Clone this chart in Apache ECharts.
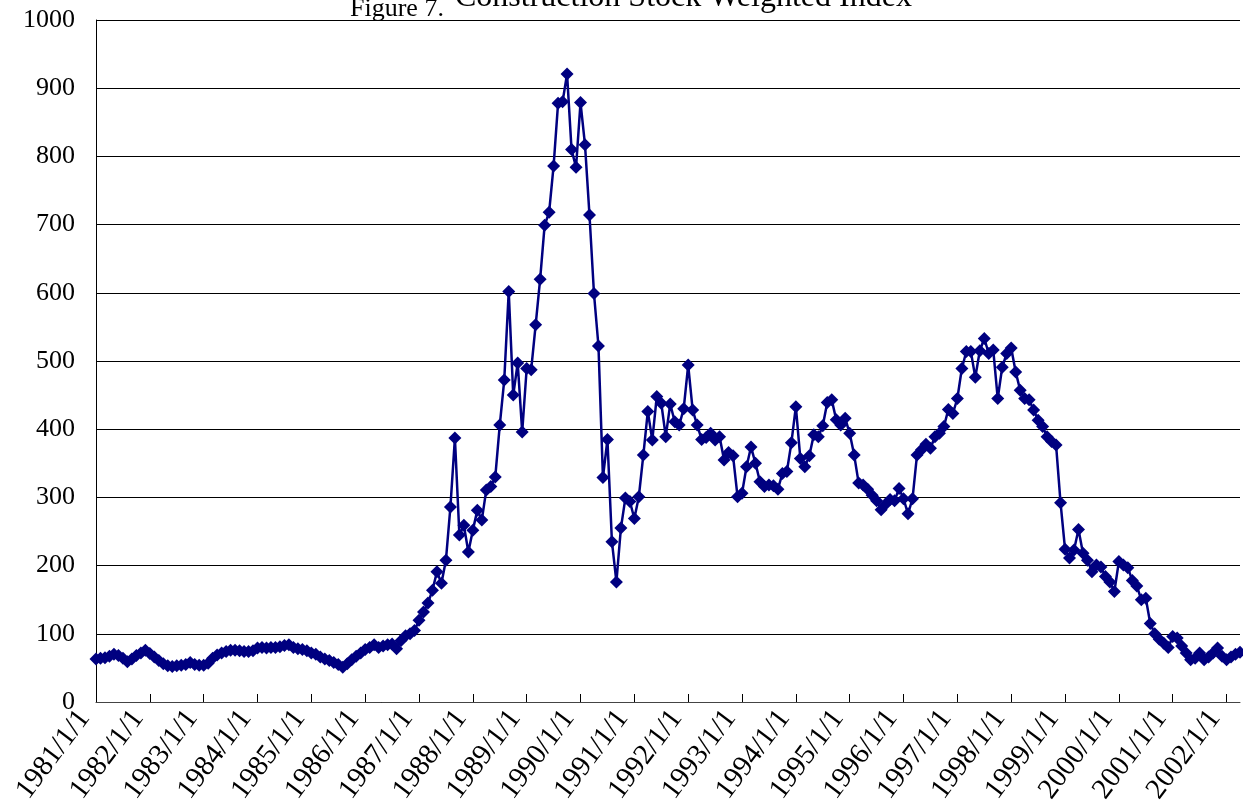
<!DOCTYPE html>
<html>
<head>
<meta charset="utf-8">
<title>Construction Stock Weighted Index</title>
<script src="https://cdn.jsdelivr.net/npm/echarts@6/dist/echarts.min.js"></script>
<style>
  html, body { margin: 0; padding: 0; background: #ffffff; }
  #chart { width: 1243px; height: 811px; }
</style>
</head>
<body>
<div id="chart"></div>
<script>
// Monthly index values, one array per calendar year (January first).
const startYear = 1981;
const idx1981 = [63, 64, 65, 67, 70, 68, 64, 59, 63, 68, 72, 76];
const idx1982 = [71, 66, 61, 56, 53, 52, 53, 54, 55, 58, 55, 54];
const idx1983 = [54, 57, 64, 69, 72, 74, 76, 76, 75, 74, 74, 75];
const idx1984 = [79, 80, 79, 80, 80, 81, 83, 84, 80, 78, 77, 75];
const idx1985 = [72, 70, 66, 63, 61, 58, 55, 51, 56, 62, 67, 72];
const idx1986 = [77, 80, 84, 80, 82, 84, 85, 78, 90, 97, 100, 105];
const idx1987 = [120, 132, 145, 164, 191, 174, 208, 286, 387, 245, 259, 220];
const idx1988 = [252, 281, 267, 311, 316, 330, 406, 472, 602, 450, 497, 396];
const idx1989 = [489, 487, 553, 620, 699, 718, 786, 878, 880, 921, 810, 784];
const idx1990 = [879, 817, 714, 599, 522, 329, 385, 235, 176, 255, 299, 294];
const idx1991 = [269, 301, 362, 426, 384, 448, 438, 389, 437, 411, 406, 430];
const idx1992 = [494, 428, 406, 385, 388, 394, 384, 389, 355, 366, 361, 301];
const idx1993 = [306, 345, 374, 350, 323, 316, 318, 317, 312, 335, 338, 380];
const idx1994 = [433, 357, 345, 361, 392, 389, 405, 439, 443, 414, 406, 416];
const idx1995 = [394, 362, 321, 318, 312, 303, 295, 282, 290, 297, 295, 313];
const idx1996 = [298, 276, 298, 362, 370, 378, 372, 389, 394, 404, 429, 423];
const idx1997 = [445, 489, 514, 514, 476, 515, 533, 511, 516, 445, 491, 511];
const idx1998 = [519, 484, 457, 445, 443, 428, 413, 404, 389, 382, 377, 292];
const idx1999 = [224, 211, 223, 253, 218, 208, 191, 201, 198, 184, 176, 162];
const idx2000 = [206, 201, 197, 178, 170, 150, 152, 115, 100, 92, 86, 80];
const idx2001 = [96, 94, 82, 72, 62, 64, 72, 62, 66, 72, 79, 67];
const idx2002 = [62, 66, 70, 73];

const yearly = [idx1981, idx1982, idx1983, idx1984, idx1985, idx1986, idx1987, idx1988,
  idx1989, idx1990, idx1991, idx1992, idx1993, idx1994, idx1995, idx1996, idx1997,
  idx1998, idx1999, idx2000, idx2001, idx2002];

// Category labels in the y/m/d form used on the axis
const dates = [];
const values = [];
yearly.forEach((arr, y) => {
  arr.forEach((v, m) => {
    dates.push((startYear + y) + '/' + (m + 1) + '/1');
    values.push(v);
  });
});

const serif = 'Liberation Serif, Times New Roman, serif';
const everyYear = (i) => i % 12 === 0;

const chart = echarts.init(document.getElementById('chart'), null, { renderer: 'canvas' });
chart.setOption({
  animation: false,
  backgroundColor: '#ffffff',
  title: [
    {
      text: 'Figure 7.',
      left: 350, top: -4, padding: 0,
      textStyle: { fontFamily: serif, fontSize: 26, fontWeight: 'normal', color: '#000' }
    },
    {
      text: 'Construction Stock Weighted Index',
      left: 455, top: -18, padding: 0,
      textStyle: { fontFamily: serif, fontSize: 32, fontWeight: 'normal', color: '#000' }
    }
  ],
  grid: { left: 96, right: 3, top: 20, bottom: 109, containLabel: false },
  xAxis: {
    type: 'category',
    data: dates,
    boundaryGap: false,
    axisLine: { show: true, lineStyle: { color: '#444', width: 1 } },
    axisTick: { show: true, inside: true, length: 8, interval: everyYear, lineStyle: { color: '#000' } },
    axisLabel: {
      interval: everyYear, rotate: 53, margin: 20,
      align: 'right', verticalAlign: 'bottom',
      fontFamily: serif, fontSize: 29, color: '#000'
    },
    splitLine: { show: false }
  },
  yAxis: {
    type: 'value',
    min: 0, max: 1000, interval: 100,
    axisLine: { show: true, lineStyle: { color: '#000', width: 1 } },
    axisTick: { show: false },
    axisLabel: {
      margin: 21, fontFamily: serif, fontSize: 26, color: '#000',
      formatter: (v) => String(v)
    },
    splitLine: { show: true, lineStyle: { color: '#000', width: 1 } }
  },
  series: [{
    type: 'line',
    data: values,
    symbol: 'diamond',
    symbolSize: 13,
    showAllSymbol: true,
    itemStyle: { color: '#000080' },
    lineStyle: { color: '#000080', width: 2.5 }
  }]
});
</script>
</body>
</html>
